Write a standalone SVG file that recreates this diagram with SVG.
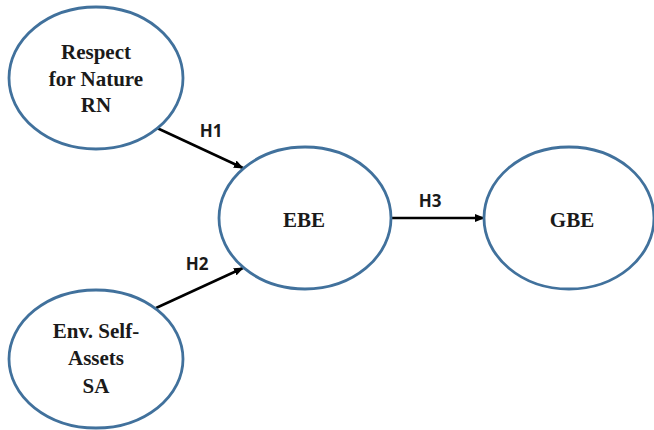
<svg xmlns="http://www.w3.org/2000/svg" width="654" height="430" viewBox="0 0 654 430">
<style>
.node{fill:#fff;stroke:#41719C;stroke-width:2.8}
.t{font-family:"Liberation Serif","Times New Roman",serif;font-weight:bold;font-size:21px;fill:#1a1a1a;text-anchor:middle}
.lbl{font-family:"Open Sans","Liberation Sans",Arial,sans-serif;font-weight:bold;font-size:17px;fill:#1a1a1a;text-anchor:middle}
.c{stroke:#000;stroke-width:2.5;fill:none;marker-end:url(#ah)}
</style>
<defs>
<marker id="ah" markerWidth="10" markerHeight="8" refX="9" refY="4" orient="auto" markerUnits="userSpaceOnUse">
<path d="M0,0 L10,4 L0,8 Z" fill="#000"/>
</marker>
</defs>
<rect width="654" height="430" fill="#fff"/>
<g id="connectors">
<line class="c" x1="157" y1="128" x2="243" y2="168"/>
<line class="c" x1="156" y1="308" x2="243" y2="268"/>
<line class="c" x1="391" y1="218" x2="484" y2="218"/>
<text class="lbl" x="211" y="137">H1</text>
<text class="lbl" x="197" y="270">H2</text>
<text class="lbl" x="430" y="207">H3</text>
</g>
<g id="RN">
<ellipse class="node" cx="96" cy="78" rx="87" ry="71"/>
<text class="t" x="96" y="59">Respect</text>
<text class="t" x="96" y="86">for Nature</text>
<text class="t" x="96" y="112">RN</text>
</g>
<g id="SA">
<ellipse class="node" cx="96" cy="359" rx="87" ry="69"/>
<text class="t" x="96" y="338">Env. Self-</text>
<text class="t" x="96" y="365">Assets</text>
<text class="t" x="96" y="393">SA</text>
</g>
<g id="EBE">
<ellipse class="node" cx="305" cy="218" rx="86" ry="71"/>
<text class="t" x="304" y="227">EBE</text>
</g>
<g id="GBE">
<ellipse class="node" cx="569" cy="218" rx="85" ry="71"/>
<text class="t" x="572" y="227">GBE</text>
</g>
</svg>
